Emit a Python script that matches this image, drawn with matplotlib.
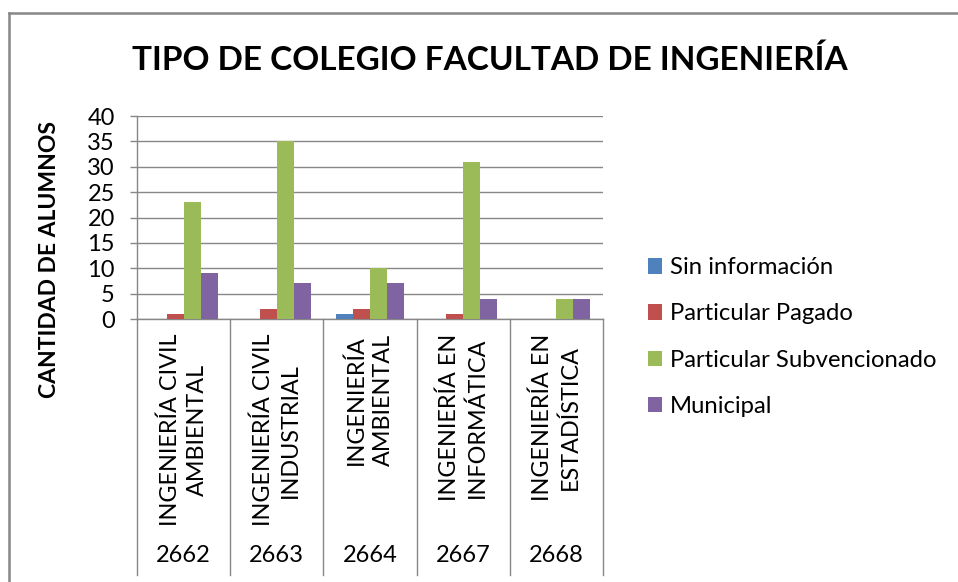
import numpy as np
import matplotlib
matplotlib.use('Agg')
import matplotlib.pyplot as plt
from matplotlib.lines import Line2D

plt.rcParams['font.family'] = ['Lato', 'DejaVu Sans']

# datos del gráfico
carreras = ['INGENIERÍA CIVIL\nAMBIENTAL', 'INGENIERÍA CIVIL\nINDUSTRIAL',
            'INGENIERÍA\nAMBIENTAL', 'INGENIERÍA EN\nINFORMÁTICA',
            'INGENIERÍA EN\nESTADÍSTICA']
codigos = ['2662', '2663', '2664', '2667', '2668']
series = ['Sin información', 'Particular Pagado', 'Particular Subvencionado', 'Municipal']
sin_informacion = [0, 0, 1, 0, 0]
particular_pagado = [1, 2, 2, 1, 0]
particular_subvencionado = [23, 35, 10, 31, 4]
municipal = [9, 7, 7, 4, 4]
valores = [sin_informacion, particular_pagado, particular_subvencionado, municipal]
colores = ['#4F81BD', '#C0504D', '#9BBB59', '#8064A2']

gris = '#878787'

fig = plt.figure(figsize=(9.58, 5.82), dpi=100)
ax = fig.add_axes([137 / 958, 1 - 319 / 582, 466 / 958, 203 / 582])

x = np.arange(len(codigos))
ancho = 0.182
for i, (nombre, vals, col) in enumerate(zip(series, valores, colores)):
    ax.bar(x + (i - 1.5) * ancho, vals, ancho, color=col, label=nombre, zorder=3)

ax.set_xlim(-0.5, len(codigos) - 0.5)
ax.set_ylim(0, 40)
ax.set_yticks(np.arange(0, 41, 5))
ax.yaxis.grid(True, color=gris, linewidth=1.0, zorder=0)
ax.tick_params(axis='y', length=5, width=1.0, color=gris, pad=11, labelsize=17)
ax.set_xticks([])

for lado in ['top', 'right']:
    ax.spines[lado].set_visible(False)
ax.spines['left'].set_color(gris)
ax.spines['bottom'].set_color(gris)
ax.spines['left'].set_linewidth(1.0)
ax.spines['bottom'].set_linewidth(1.0)

# etiquetas de categoría en dos niveles
trans = ax.get_xaxis_transform()
fondo = -(575 - 319) / 203
for b in np.arange(-0.5, len(codigos)):
    ax.add_line(Line2D([b, b], [0, fondo], transform=trans, color=gris,
                       linewidth=1.0, clip_on=False))
for xi, nom, cod in zip(x, carreras, codigos):
    ax.text(xi, -15 / 203, nom, transform=trans, rotation=90, ha='center', va='top',
            multialignment='center', fontsize=16.8, linespacing=1.35)
    ax.text(xi, -(555 - 319) / 203, cod, transform=trans, ha='center', va='center',
            fontsize=17)

ax.set_ylabel('CANTIDAD DE ALUMNOS', fontsize=16.5, fontweight='bold')
ax.yaxis.set_label_coords(60 / 958, 1 - 259 / 582, transform=fig.transFigure)

fig.text(490 / 958, 1 - 60 / 582, 'TIPO DE COLEGIO FACULTAD DE INGENIERÍA',
         ha='center', va='center', fontsize=24, fontweight='bold')

ax.legend(loc='center left', bbox_to_anchor=(626 / 958, 1 - 337 / 582),
          bbox_transform=fig.transFigure, frameon=False, fontsize=17.2,
          handlelength=0.6, handleheight=0.6, handletextpad=0.35, labelspacing=1.05)

# marco del área del gráfico
fig.add_artist(Line2D([8.5 / 958, 8.5 / 958], [0, 1 - 13 / 582], color=gris, linewidth=1.8))
fig.add_artist(Line2D([8.5 / 958, 1], [1 - 13 / 582, 1 - 13 / 582], color=gris, linewidth=1.8))

fig.savefig('out.png', dpi=100)
